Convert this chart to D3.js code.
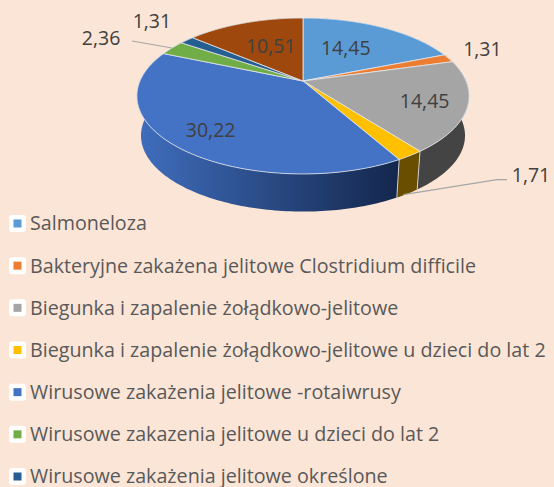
<!DOCTYPE html>
<html>
<head>
  <title>Zakażenia jelitowe</title>
  <script src="https://d3js.org/d3.v7.min.js"></script>
  <style>
    html, body { margin: 0; padding: 0; background: #fbe5d6; overflow: hidden; }
    svg { display: block; }
    text { font-family: "Open Sans", sans-serif; }
    .legend text { font-size: 19.7px; fill: #595959; }
    .label { font-size: 19.5px; fill: #404040; text-anchor: middle; dominant-baseline: central; }
  </style>
</head>
<body>
<svg width="554" height="487"></svg>
<script>
  const values = [14.45, 1.31, 14.45, 1.71, 30.22, 2.36, 1.31, 10.51];
  const valueLabels = ["14,45", "1,31", "14,45", "1,71", "30,22", "2,36", "1,31", "10,51"];
  const colors = ["#5b9bd5", "#ed7d31", "#a5a5a5", "#ffc000", "#4472c4", "#70ad47", "#255e91", "#9e480e"];
  const wallColors = ["#3a6285", "#95501f", "#444444", "#6a4e00", "url(#blueWall)", "#47702d", "#173b5c", "#642e09"];
  // the eighth legend row falls below the bottom of the picture
  const categories = [
    "Salmoneloza",
    "Bakteryjne zakażena jelitowe Clostridium difficile",
    "Biegunka i zapalenie żołądkowo-jelitowe",
    "Biegunka i zapalenie żołądkowo-jelitowe u dzieci do lat 2",
    "Wirusowe zakażenia jelitowe -rotaiwrusy",
    "Wirusowe zakazenia jelitowe u dzieci do lat 2",
    "Wirusowe zakażenia jelitowe określone"
  ];
  // label offset from the middle of the slice's rim
  const labelOffsets = [[-36, 20], [34, -10], [-43, -6], [121, 19], [34.5, -17], [-71, -10], [-35, -20], [26, 23]];

  const svg = d3.select("svg");

  // the pie is a tilted circle, so the near side is drawn larger than the far side
  const tilt = -0.192;
  function project(angle, plane) {
    const u = Math.sin(angle), v = -Math.cos(angle), den = 1 + tilt * v;
    return [plane.cx + plane.b * u / den, plane.cy + plane.a * v / den];
  }
  const topPlane = {cx: 303, cy: 81, a: 75.1, b: 163};
  const basePlane = {cx: 303, cy: 121, a: 73.2, b: 159};

  const pie = d3.pie().sort(null).value(d => d);
  const slices = pie(values);

  const line = d3.line();
  function rim(d, plane) {
    const n = Math.max(2, Math.ceil((d.endAngle - d.startAngle) / 0.02));
    return d3.range(n + 1).map(i => project(d.startAngle + (d.endAngle - d.startAngle) * i / n, plane));
  }

  const defs = svg.append("defs");
  const blue = defs.append("linearGradient").attr("id", "blueWall")
    .attr("gradientUnits", "userSpaceOnUse")
    .attr("x1", 140).attr("x2", 398).attr("y1", 0).attr("y2", 0);
  blue.append("stop").attr("offset", "0%").attr("stop-color", "#3f6dbc");
  blue.append("stop").attr("offset", "100%").attr("stop-color", "#14274d");

  // side walls first, the top of the pie covers the far ones
  svg.append("g").selectAll("path")
    .data(slices)
    .join("path")
      .attr("d", d => line(rim(d, topPlane).concat(rim(d, basePlane).reverse())) + "Z")
      .attr("fill", (d, i) => wallColors[i]);

  // light seams between the visible walls
  svg.append("g").selectAll("path")
    .data(slices.filter(d => Math.cos(d.startAngle) < 0))
    .join("path")
      .attr("d", d => line([project(d.startAngle, topPlane), project(d.startAngle, basePlane)]))
      .attr("fill", "none")
      .attr("stroke", "#e4e8ee")
      .attr("stroke-width", 0.8);

  svg.append("g").selectAll("path")
    .data(slices)
    .join("path")
      .attr("d", d => line([[topPlane.cx, topPlane.cy]].concat(rim(d, topPlane))) + "Z")
      .attr("fill", (d, i) => colors[i])
      .attr("stroke", "#e4e8ee")
      .attr("stroke-width", 0.8)
      .attr("stroke-linejoin", "round");

  function midPoint(d, plane) {
    return project((d.startAngle + d.endAngle) / 2, plane);
  }
  function labelPoint(d) {
    const p = midPoint(d, topPlane), o = labelOffsets[d.index];
    return [p[0] + o[0], p[1] + o[1]];
  }

  // leader lines for the two labels far from their slices
  const lead236 = labelPoint(slices[5]);
  const lead171 = labelPoint(slices[3]);
  const base171 = midPoint(slices[3], basePlane);
  const leaders = [
    [[lead236[0] + 31, lead236[1] + 3], midPoint(slices[5], topPlane)],
    [[lead171[0] - 24, lead171[1] + 5], [lead171[0] - 34, lead171[1] + 5], [base171[0] - 4, base171[1] + 1]]
  ];
  svg.append("g").selectAll("path")
    .data(leaders)
    .join("path")
      .attr("d", line)
      .attr("fill", "none")
      .attr("stroke", "#a6a6a6")
      .attr("stroke-width", 1.2);

  svg.append("g").selectAll("text")
    .data(slices)
    .join("text")
      .attr("class", "label")
      .attr("x", d => labelPoint(d)[0])
      .attr("y", d => labelPoint(d)[1])
      .text((d, i) => valueLabels[i]);

  // Legend
  const legendY = d3.scalePoint().domain(categories).range([223.5, 476.5]);
  const rows = svg.append("g").attr("class", "legend").selectAll("g")
    .data(categories)
    .join("g")
      .attr("transform", d => "translate(0," + legendY(d) + ")");
  rows.append("rect")
    .attr("x", 9).attr("y", -8.5).attr("width", 17).attr("height", 17).attr("rx", 3)
    .attr("fill", "#ffffff");
  rows.append("rect")
    .attr("x", 13.5).attr("y", -4).attr("width", 8).attr("height", 8)
    .attr("fill", (d, i) => colors[i]);
  rows.append("text")
    .attr("x", 30)
    .attr("dy", "0.35em")
    .text(d => d);
</script>
</body>
</html>
